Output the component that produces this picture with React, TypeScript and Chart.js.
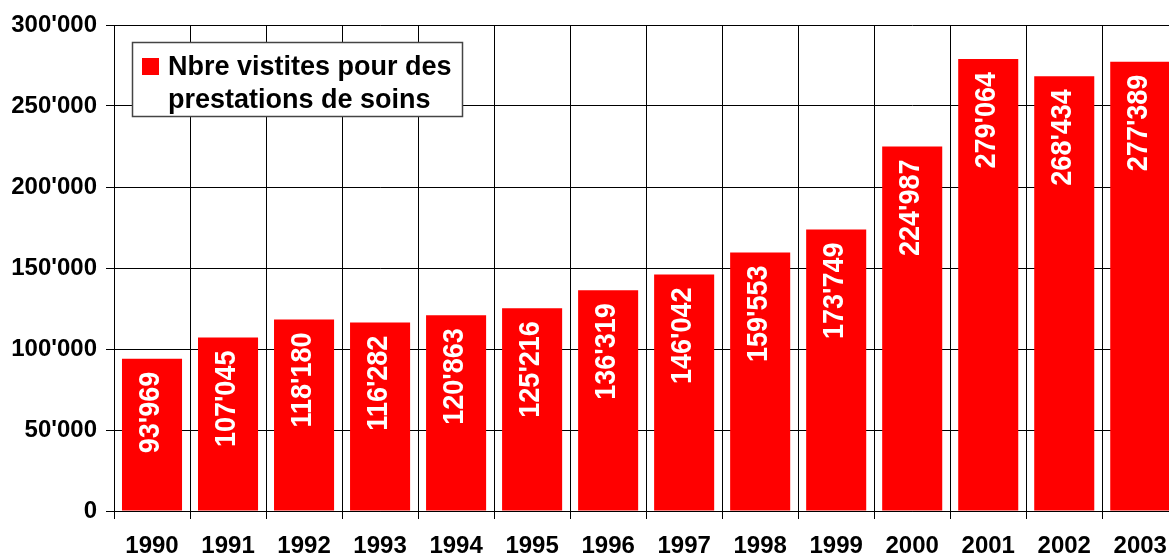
import React, { useEffect, useRef } from "react";
import { Chart, registerables } from "chart.js";

Chart.register(...registerables);

const categories = ["1990", "1991", "1992", "1993", "1994", "1995", "1996", "1997", "1998", "1999", "2000", "2001", "2002", "2003"];
const visits = [93969, 107045, 118180, 116282, 120863, 125216, 136319, 146042, 159553, 173749, 224987, 279064, 268434, 277389];
const legendLines = ["Nbre vistites pour des", "prestations de soins"];
const seriesLabel = legendLines.join(" ");

const FONT = "'Liberation Sans', Arial, sans-serif";

const fmt = (v: number) => Math.round(v).toString().replace(/\B(?=(\d{3})+(?!\d))/g, "'");

const barLabelPlugin = {
  id: "barLabels",
  afterDatasetsDraw(chart: any) {
    const ctx = chart.ctx;
    const meta = chart.getDatasetMeta(0);
    const data = chart.data.datasets[0].data as number[];
    ctx.save();
    ctx.fillStyle = "#ffffff";
    ctx.font = `bold 27px ${FONT}`;
    ctx.textAlign = "right";
    ctx.textBaseline = "middle";
    meta.data.forEach((bar: any, i: number) => {
      ctx.save();
      ctx.translate(bar.x - 1, bar.y + 13);
      ctx.rotate(-Math.PI / 2);
      ctx.scale(1, 1.1);
      ctx.fillText(fmt(data[i]), 0, 0);
      ctx.restore();
    });
    ctx.restore();
  },
};

const legendPlugin = {
  id: "boxLegend",
  afterDraw(chart: any) {
    const ctx = chart.ctx;
    const x = 132.5, y = 42.5, w = 330, h = 74;
    ctx.save();
    ctx.fillStyle = "#ffffff";
    ctx.fillRect(x, y, w, h);
    ctx.strokeStyle = "#444444";
    ctx.lineWidth = 1.5;
    ctx.strokeRect(x, y, w, h);
    ctx.fillStyle = "#ff0000";
    ctx.fillRect(142, 58, 17, 17);
    ctx.fillStyle = "#000000";
    ctx.font = `bold 27px ${FONT}`;
    ctx.textAlign = "left";
    ctx.textBaseline = "alphabetic";
    ctx.fillText(legendLines[0], 168, 75);
    ctx.fillText(legendLines[1], 168, 108);
    ctx.restore();
  },
};

export default function App() {
  const ref = useRef<HTMLCanvasElement | null>(null);

  useEffect(() => {
    if (!ref.current) return;
    const chart = new Chart(ref.current, {
      type: "bar",
      data: {
        labels: categories,
        datasets: [
          {
            label: seriesLabel,
            data: visits,
            backgroundColor: "#ff0000",
            borderWidth: 0,
            barPercentage: 0.79,
            categoryPercentage: 1,
          },
        ],
      },
      options: {
        animation: false,
        responsive: false,
        maintainAspectRatio: false,
        layout: { padding: { top: 25, right: 1, left: 0, bottom: 0 } },
        plugins: {
          legend: { display: false },
          tooltip: { enabled: false },
        },
        scales: {
          x: {
            offset: true,
            grid: {
              offset: true,
              color: "#000000",
              lineWidth: 1,
              drawTicks: true,
              tickLength: 8,
            },
            border: { display: true, color: "#000000", width: 1 },
            ticks: {
              color: "#000000",
              font: { family: FONT, size: 24, weight: "bold" },
              padding: 13,
              maxRotation: 0,
              autoSkip: false,
            },
            afterFit: (scale: any) => {
              scale.height = 45;
            },
          },
          y: {
            min: 0,
            max: 300000,
            ticks: {
              stepSize: 50000,
              color: "#000000",
              font: { family: FONT, size: 24, weight: "bold" },
              padding: 9,
              callback: (v: any) => fmt(Number(v)),
            },
            grid: { color: "#000000", lineWidth: 1, tickLength: 8 },
            border: { display: true, color: "#000000", width: 1 },
            afterFit: (scale: any) => {
              scale.width = 114;
            },
          },
        },
      },
      plugins: [barLabelPlugin, legendPlugin],
    });
    return () => chart.destroy();
  }, []);

  return (
    <div style={{ position: "fixed", left: 0, top: 0, width: 1169, height: 556, overflow: "hidden", background: "#fff" }}>
      <canvas ref={ref} width={1180} height={556} style={{ display: "block", width: 1180, height: 556 }} />
    </div>
  );
}
